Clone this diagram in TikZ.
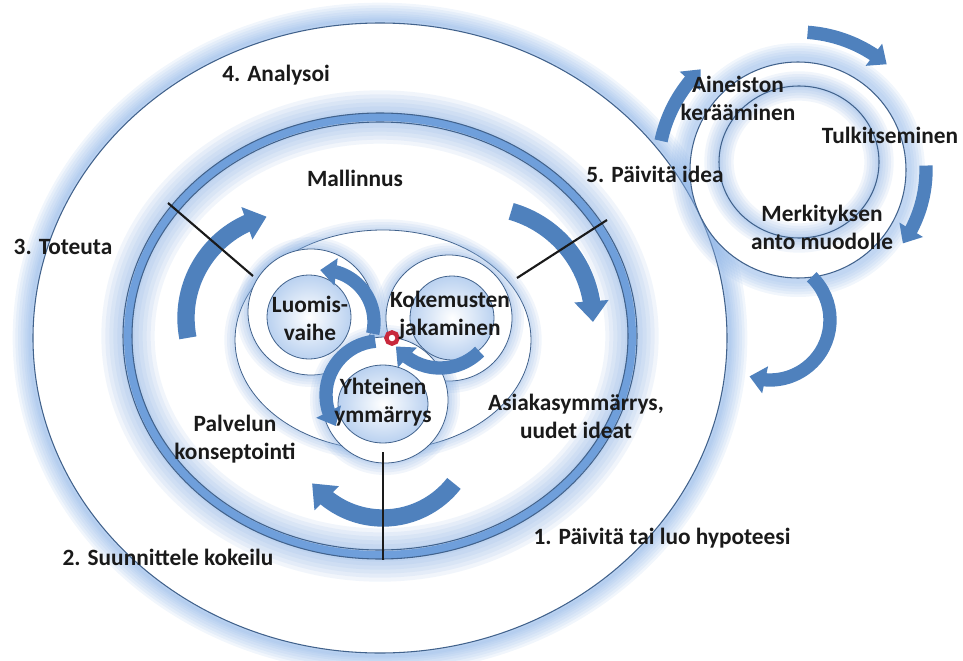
\documentclass[tikz,border=0pt]{standalone}
\usepackage{fontspec}
\setmainfont{Carlito}
\usetikzlibrary{arrows.meta,bending}
\definecolor{ink}{HTML}{1A1A1A}
\definecolor{rim}{HTML}{41628C}
\definecolor{haze}{HTML}{8CB3E6}
\definecolor{band}{HTML}{6F9FDB}
\definecolor{flow}{HTML}{4F81BD}
\definecolor{dot}{HTML}{C8283C}
\tikzset{
  halo/.style={draw=haze,line width=#1,opacity=.12},
  rimline/.style={draw=rim,line width=.8pt},
  lbl/.style={font=\bfseries\fontsize{17.5}{21}\selectfont,text=ink,align=center,inner sep=0pt},
  bigflow/.style={draw=flow,line width=13pt,-{Triangle[length=0pt 1.2,width=0pt 1.9]}},
  smallflow/.style={draw=flow,line width=10pt,-{Triangle[length=0pt 1.2,width=0pt 2]}},
  divider/.style={draw=ink,line width=1.6pt},
  spark/.style={circle,draw=dot,line width=3.2pt,fill=white,minimum size=8.5pt,inner sep=0pt},
}
\begin{document}
\begin{tikzpicture}[x=0.75pt,y=-0.75pt]
\useasboundingbox (0,0) rectangle (963,660);
\coordinate (big) at (380,338);
\coordinate (mid) at (380,336);
\coordinate (core) at (383,340);
\coordinate (luo) at (311,312);
\coordinate (kok) at (449,318);
\coordinate (yht) at (385,400);
\coordinate (side) at (798,170);
\coordinate (sidein) at (799,162);
\foreach \w in {26,22,18,14,10,7,4,2} \draw[halo=\w pt] (big) ellipse[x radius=350,y radius=318];
\fill[white] (big) ellipse[x radius=347,y radius=315];
\draw[rimline] (big) ellipse[x radius=347,y radius=315];
\foreach \w in {24,20,16,12,8,4} \draw[halo=\w pt] (side) circle[radius=111];
\fill[white] (side) circle[radius=108];
\draw[rimline] (side) circle[radius=108];
\foreach \w in {22,18,14,10,6,3} \draw[halo=\w pt] (sidein) ellipse[x radius=80,y radius=76];
\draw[rimline] (sidein) ellipse[x radius=80,y radius=76];
\foreach \w in {40,34,28,22,16,10} \draw[halo=\w pt] (mid) ellipse[x radius=252,y radius=219];
\draw[band,line width=6pt] (mid) ellipse[x radius=252,y radius=219];
\draw[rimline] (mid) ellipse[x radius=257,y radius=223];
\draw[rimline] (mid) ellipse[x radius=248,y radius=214];
\foreach \w in {16,12,8,4} \draw[halo=\w pt] (core) ellipse[x radius=148,y radius=110];
\fill[white] (core) ellipse[x radius=148,y radius=110];
\draw[rimline,line width=.6pt] (core) ellipse[x radius=148,y radius=110];
\foreach \w in {18,14,10,6,3} \draw[halo=\w pt] (luo) circle[radius=63];
\fill[white] (luo) circle[radius=63];
\draw[rimline,line width=.6pt] (luo) circle[radius=63];
\foreach \w in {18,14,10,6,3} \draw[halo=\w pt] (kok) circle[radius=63];
\fill[white] (kok) circle[radius=63];
\draw[rimline,line width=.6pt] (kok) circle[radius=63];
\foreach \w in {18,14,10,6,3} \draw[halo=\w pt] (yht) circle[radius=63];
\fill[white] (yht) circle[radius=63];
\draw[rimline,line width=.6pt] (yht) circle[radius=63];
\shade[inner color=white,outer color=haze!60] (309,317) circle[radius=42];
\draw[rimline,line width=.6pt] (309,317) circle[radius=42];
\shade[inner color=white,outer color=haze!60] (452,318) circle[radius=42];
\draw[rimline,line width=.6pt] (452,318) circle[radius=42];
\shade[inner color=white,outer color=haze!60] (383,404) ellipse[x radius=45,y radius=39];
\draw[rimline,line width=.6pt] (383,404) ellipse[x radius=45,y radius=39];
\coordinate (cL) at (290,318);
\coordinate (cR) at (480,320);
\coordinate (cB) at (383,428);
\draw[bigflow] (cL) ++(169:104) arc[start angle=169,end angle=257,radius=104];
\draw[bigflow] (cR) ++(-74:113) arc[start angle=-74,end angle=1,radius=113];
\draw[bigflow] (cB) ++(38:90) arc[start angle=38,end angle=142,radius=90];
\coordinate (aL) at (322,322);
\coordinate (aY) at (380,395);
\coordinate (aK) at (440,312);
\draw[smallflow] (aL) ++(13:52) arc[start angle=13,end angle=-92,radius=52];
\draw[smallflow] (aY) ++(265:54) arc[start angle=265,end angle=145,radius=54];
\draw[smallflow] (aK) ++(45:56) arc[start angle=45,end angle=142,radius=56];
\coordinate (cS) at (770,320);
\draw[smallflow] (side) ++(-86:138) arc[start angle=-86,end angle=-50,radius=138];
\draw[smallflow] (side) ++(192:140) arc[start angle=192,end angle=226,radius=140];
\draw[smallflow] (side) ++(-2:128) arc[start angle=-2,end angle=35,radius=128];
\draw[smallflow] (cS) ++(-46:60) arc[start angle=-46,end angle=110,radius=60];
\coordinate (d1a) at (168,203);
\coordinate (d1b) at (253,276);
\coordinate (d2a) at (607,220);
\coordinate (d2b) at (517,278);
\coordinate (d3a) at (383,452);
\coordinate (d3b) at (383,560);
\draw[divider] (d1a) -- (d1b);
\draw[divider] (d2a) -- (d2b);
\draw[divider] (d3a) -- (d3b);
\node[spark] (hub) at (392,338) {};
\node[lbl] (analyse) at (276,75) {4. Analysoi};
\node[lbl] (model) at (355,178) {Mallinnus};
\node[lbl] (build) at (63,247) {3. Toteuta};
\node[lbl] (update) at (655,174) {5. Päivitä idea};
\node[lbl] (collect) at (738,98) {Aineiston\\kerääminen};
\node[lbl] (interp) at (890,135) {Tulkitseminen};
\node[lbl] (meaning) at (822,227) {Merkityksen\\anto muodolle};
\node[lbl] (create) at (310,318) {Luomis-\\vaihe};
\node[lbl] (share) at (450,315) {Kokemusten\\jakaminen};
\node[lbl] (common) at (383,402) {Yhteinen\\ymmärrys};
\node[lbl] (concept) at (235,439) {Palvelun\\konseptointi};
\node[lbl] (insight) at (576,416) {Asiakasymmärrys,\\uudet ideat};
\node[lbl] (plan) at (168,557) {2. Suunnittele kokeilu};
\node[lbl] (hypo) at (662,538) {1. Päivitä tai luo hypoteesi};
\end{tikzpicture}
\end{document}
